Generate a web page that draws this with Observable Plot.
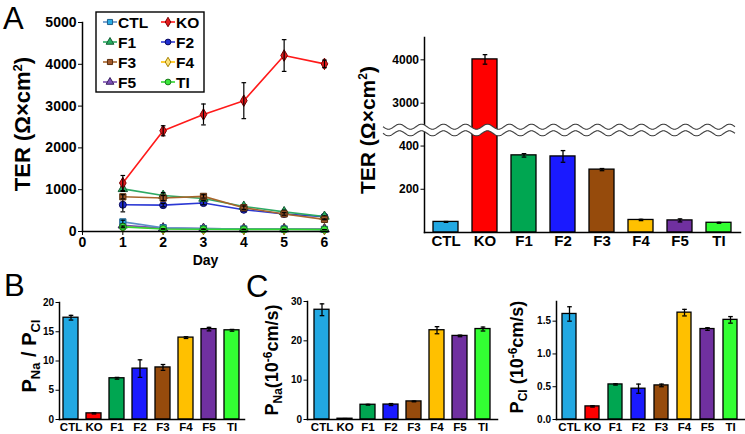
<!DOCTYPE html>
<html><head><meta charset="utf-8">
<script src="https://cdn.jsdelivr.net/npm/d3@7"></script>
<script src="https://cdn.jsdelivr.net/npm/@observablehq/plot@0.6"></script>
<style>
body{margin:0;background:#fff;}
#fig{position:relative;width:745px;height:434px;overflow:hidden;font-family:"Liberation Sans",Arial,sans-serif;}
</style></head><body><div id="fig"></div>
<script>
// ---------- data ----------
const cats = ["CTL","KO","F1","F2","F3","F4","F5","TI"];
const barColors = ["#22a8e2","#ff0000","#00a651","#1a1aff","#964b0c","#ffc000","#7030a0","#33ff33"];

// Panel A left: TER over days
const days = [1,2,3,4,5,6];
const terCTL = [230, 90, 70, 60, 60, 50];
const terKO  = [1160, 2410, 2800, 3130, 4210, 4010];
const terF1  = [1020, 860, 790, 600, 470, 360];
const terF2  = [640, 630, 680, 520, 420, 355];
const terF3  = [830, 800, 840, 570, 420, 290];
const terF4  = [120, 70, 60, 60, 60, 58];
const terF5  = [150, 80, 70, 60, 60, 56];
const terTI  = [110, 60, 55, 50, 50, 45];
const errCTL = [40, 10, 5, 5, 5, 3];
const errKO  = [180, 120, 250, 430, 380, 90];
const errF1  = [60, 70, 50, 40, 40, 15];
const errF2  = [170, 40, 40, 30, 30, 25];
const errF3  = [50, 60, 40, 40, 30, 10];
const errF4  = [20, 5, 5, 5, 5, 3];
const errF5  = [20, 5, 5, 5, 5, 5];
const errTI  = [20, 5, 5, 5, 5, 2];
const dayTicks = [0,1,2,3,4,5,6];
const terTicks = [0,1000,2000,3000,4000,5000];

// Panel A right: TER at day 6 (broken axis)
const terDay6    = [49, 4010, 357, 352, 291, 58, 56, 45];
const terDay6Err = [2, 110, 8, 27, 5, 3, 7, 2];
const terBarTicks = [200, 400, 3000, 4000];

// Panel B: PNa/PCl
const ratio    = [17.4, 1.05, 7.05, 8.7, 8.9, 14.0, 15.45, 15.25];
const ratioErr = [0.4, 0.1, 0.15, 1.5, 0.5, 0.15, 0.3, 0.15];
const ratioTicks = [0,5,10,15,20];

// Panel C: PNa and PCl
const pNa    = [27.9, 0.2, 3.75, 3.8, 4.6, 22.7, 21.25, 23.0];
const pNaErr = [1.5, 0.05, 0.1, 0.25, 0.1, 0.9, 0.2, 0.5];
const pNaTicks = [0,10,20,30];
const pCl    = [1.61, 0.2, 0.535, 0.47, 0.52, 1.63, 1.38, 1.52];
const pClErr = [0.11, 0.01, 0.01, 0.07, 0.02, 0.05, 0.02, 0.05];
const pClTicks = [0,0.5,1.0,1.5];

// ---------- styles ----------
const FONT = '"Liberation Sans", Arial, sans-serif';
const lineColors   = ["#5b8fc7","#ff1a1a","#2eaa64","#2b38d4","#a8652c","#ffc000","#7b4fb0","#33d633"];
const markerFill   = ["#29abe2","#e31a1c","#27ae60","#1f2ed1","#a0582a","#ffe37a","#7d52b8","#3be83b"];
const markerStroke = ["#1d5e8c","#7a0000","#145c33","#0a0a5e","#5a2e0e","#a68200","#3a1f60","#1c7a1c"];
const symbols = ["square","diamond","triangle","circle","square","diamond","triangle","circle"];
const terSeries = [terCTL, terKO, terF1, terF2, terF3, terF4, terF5, terTI];
const terErrs   = [errCTL, errKO, errF1, errF2, errF3, errF4, errF5, errTI];
const drawOrder = [5,6,0,7,3,2,4,1];

const capSymbol = {draw(ctx, size){ const w = Math.sqrt(size); ctx.moveTo(-w,0); ctx.lineTo(w,0); }};
const fig = d3.select("#fig");
function place(svg, left, top){
  svg.style.position = "absolute"; svg.style.left = left+"px"; svg.style.top = top+"px";
  fig.node().appendChild(svg); return svg;
}
const baseStyle = {fontFamily: FONT, fontWeight: "bold", background: "transparent", overflow: "visible", color: "black"};

// ---------- Panel A left ----------
const rows = [];
cats.forEach((name,i) => days.forEach((d,j) => rows.push({name, si:i, day:d, v:terSeries[i][j], e:terErrs[i][j]})));
const lineMarks = [];
drawOrder.forEach(i => {
  const r = rows.filter(d => d.si === i);
  lineMarks.push(Plot.line(r, {x:"day", y:"v", stroke: lineColors[i], strokeWidth:1.6}));
  lineMarks.push(Plot.dot(r, {x:"day", y:"v", symbol: symbols[i], r:3.5, fill: markerFill[i], stroke: markerStroke[i], strokeWidth:1}));
  lineMarks.push(Plot.ruleX(r, {x:"day", y1: d=>d.v-d.e, y2: d=>d.v+d.e, stroke:"black", strokeWidth:1.2}));
  lineMarks.push(Plot.dot(r, {x:"day", y: d=>d.v+d.e, symbol: capSymbol, r:1.3, stroke:"black", fill:"none", strokeWidth:1.2}));
  lineMarks.push(Plot.dot(r, {x:"day", y: d=>d.v-d.e, symbol: capSymbol, r:1.3, stroke:"black", fill:"none", strokeWidth:1.2}));
});
const plotA = Plot.plot({
  width: 340, height: 270, marginLeft: 82, marginRight: 12, marginTop: 22, marginBottom: 39,
  style: {...baseStyle, fontSize: "14px"},
  x: {domain: [0, 6.1]}, y: {domain: [0, 5000]},
  marks: [
    Plot.axisY({ticks: terTicks, tickFormat: "d", tickSize: 4, tickPadding: 2, label: null, fontSize: 14}),
    Plot.axisX({ticks: dayTicks, tickFormat: "d", tickSize: 4, tickPadding: 2, label: "Day", labelAnchor: "center", labelArrow: "none", labelOffset: 33, fontSize: 14}),
    ...lineMarks,
    Plot.frame({anchor: "left", strokeWidth: 1.5}),
    Plot.frame({anchor: "bottom", strokeWidth: 1.5})
  ]
});
place(plotA, 0, 0);

// ---------- bar chart helper ----------
function barChart(o){
  const data = cats.map((c,i) => ({cat:c, v:o.values[i], e:o.errs[i], color: barColors[i]}));
  return Plot.plot({
    width: o.width, height: o.height,
    marginLeft: o.ml, marginRight: o.mr, marginTop: o.mt, marginBottom: o.mb,
    style: {...baseStyle, fontSize: o.yFont+"px"},
    x: {type: "band", domain: cats, paddingInner: o.pi, paddingOuter: o.po},
    y: {type: "linear", ...o.y},
    color: {type: "identity"},
    marks: [
      Plot.barY(data, {x:"cat", y:"v", fill:"color", stroke:"black", strokeWidth:1.3}),
      Plot.ruleX(data, {x:"cat", y1: d=>d.v-d.e, y2: d=>d.v+d.e, stroke:"black", strokeWidth:1.3}),
      Plot.dot(data, {x:"cat", y: d=>d.v+d.e, symbol: capSymbol, r:1.3, stroke:"black", fill:"none", strokeWidth:1.3}),
      Plot.dot(data, {x:"cat", y: d=>d.v-d.e, symbol: capSymbol, r:1.3, stroke:"black", fill:"none", strokeWidth:1.3}),
      Plot.axisY({ticks: o.ticks, tickFormat: o.fmt, tickSize: 3.5, tickPadding: 2, label: null, fontSize: o.yFont}),
      Plot.axisX({tickSize: 0, tickPadding: 3, label: null, fontSize: o.xFont}),
      Plot.frame({anchor: "left", strokeWidth: 1.5}),
      Plot.frame({anchor: "bottom", strokeWidth: 1.5})
    ]
  });
}

// ---------- Panel A right (broken axis) ----------
const breakLow = 472, breakHigh = 2370, breakY = 130;
const plotAR = barChart({values: terDay6, errs: terDay6Err, width: 405, height: 270,
  ml: 84, mr: 5, mt: 37, mb: 38, pi: 0.35, po: 0.22,
  y: {domain: [0, breakLow, breakHigh, 4515], range: [232, breakY, breakY, 37]},
  ticks: terBarTicks, fmt: "d", yFont: 12, xFont: 15});
place(plotAR, 340, 0);
{
  const s = d3.select(plotAR);
  const x0 = 43, x1 = 395, period = 22, amp = 2.5, gap = 3.3;
  const xs = d3.range(x0, x1 + 0.5, 0.5);
  const wave = off => xs.map(x => [x, breakY + off + amp*Math.sin(2*Math.PI*(x-x0)/period)]);
  const top = wave(-gap), bot = wave(gap);
  s.append("path").attr("d", d3.line()(top.concat(bot.slice().reverse())) + "Z").attr("fill","white");
  s.append("path").attr("d", d3.line()(top)).attr("fill","none").attr("stroke","#3a3a3a").attr("stroke-width",1.1);
  s.append("path").attr("d", d3.line()(bot)).attr("fill","none").attr("stroke","#3a3a3a").attr("stroke-width",1.1);
}

// ---------- Panel B ----------
place(barChart({values: ratio, errs: ratioErr, width: 250, height: 164,
  ml: 59, mr: 6, mt: 32, mb: 15, pi: 0.33, po: 0.08,
  y: {domain: [0, 20]}, ticks: ratioTicks, fmt: "d", yFont: 10, xFont: 11.5}), 0, 270);

// ---------- Panel C left ----------
place(barChart({values: pNa, errs: pNaErr, width: 250, height: 164,
  ml: 57, mr: 3, mt: 31, mb: 15, pi: 0.35, po: 0.28,
  y: {domain: [0, 30]}, ticks: pNaTicks, fmt: "d", yFont: 10, xFont: 11.5}), 250, 270);

// ---------- Panel C right ----------
place(barChart({values: pCl, errs: pClErr, width: 245, height: 164,
  ml: 56, mr: 1, mt: 31, mb: 15, pi: 0.38, po: 0.15,
  y: {domain: [0, 1.8]}, ticks: pClTicks, fmt: ".1f", yFont: 10, xFont: 11.5}), 500, 270);

// ---------- overlay: panel letters, axis titles, legend ----------
const ov = fig.append("svg").attr("width",745).attr("height",434)
  .style("position","absolute").style("left","0px").style("top","0px")
  .style("font-family", FONT).style("overflow","visible");
[["A",3,29],["B",4,296],["C",246,297]].forEach(([t,x,y]) =>
  ov.append("text").attr("x",x).attr("y",y).attr("font-size",31).text(t));

function vlabel(x, y, size, parts){
  const t = ov.append("text").attr("transform",`translate(${x},${y}) rotate(-90)`)
    .attr("text-anchor","middle").attr("font-size",size).attr("font-weight","bold");
  parts.forEach(p => t.append("tspan").attr("dy", p.dy || 0).attr("font-size", p.size || null).text(p.t));
}
vlabel(30, 124, 22, [{t:"TER (Ω×cm"},{t:"2", dy:-8, size:13},{t:")", dy:8}]);
vlabel(375, 130, 21, [{t:"TER (Ω×cm"},{t:"2", dy:-8, size:12},{t:")", dy:8}]);
vlabel(36, 356, 20, [{t:"P"},{t:"Na", dy:4, size:13},{t:" / P", dy:-4},{t:"Cl", dy:4, size:13}]);
vlabel(278, 360, 18, [{t:"P"},{t:"Na", dy:4, size:12},{t:"(10", dy:-4},{t:"-6", dy:-6, size:12},{t:"cm/s)", dy:6}]);
vlabel(523, 357, 18, [{t:"P"},{t:"Cl", dy:4, size:12},{t:" (10", dy:-4},{t:"-6", dy:-6, size:12},{t:"cm/s)", dy:6}]);

// legend
const lg = ov.append("g");
lg.append("rect").attr("x",96).attr("y",12).attr("width",108).attr("height",80)
  .attr("fill","white").attr("stroke","black").attr("stroke-width",1.4);
const legendCols = [[0,2,4,6],[1,3,5,7]];
legendCols.forEach((col, ci) => col.forEach((si, ri) => {
  const cx = ci === 0 ? 110 : 168, cy = 22 + ri*20;
  lg.append("line").attr("x1",cx-7).attr("x2",cx+7).attr("y1",cy).attr("y2",cy)
    .attr("stroke", lineColors[si]).attr("stroke-width",1.6);
  const symType = {square: d3.symbolSquare, diamond: d3.symbolDiamond, triangle: d3.symbolTriangle, circle: d3.symbolCircle}[symbols[si]];
  lg.append("path").attr("transform",`translate(${cx},${cy})`).attr("d", d3.symbol(symType, 26)())
    .attr("fill", markerFill[si]).attr("stroke", markerStroke[si]).attr("stroke-width",1);
  lg.append("text").attr("x", cx+8).attr("y", cy+5.5).attr("font-size",15.5).attr("font-weight","bold").text(cats[si]);
}));
</script>
</body></html>
